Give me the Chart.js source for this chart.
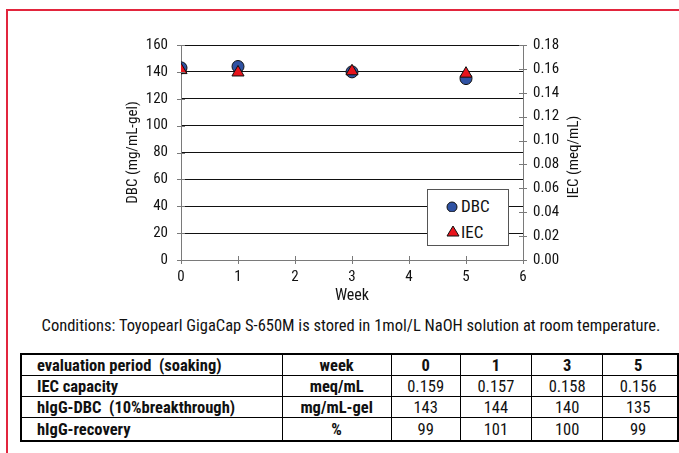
<!DOCTYPE html>
<html>
<head>
<meta charset="utf-8">
<script src="https://cdn.jsdelivr.net/npm/chart.js@4"></script>
<style>
  body { margin: 0; width: 679px; height: 453px; overflow: hidden; background: #fff; position: relative;
         font-family: "Roboto Condensed", "DejaVu Sans Condensed", sans-serif; color: #111; }
  #marco { position: absolute; left: 6px; top: 9px; width: 700px; height: 460px; border: 2px solid #e2253d; }
  #lienzo { position: absolute; left: 0; top: 0; width: 679px; height: 310px; }
  #leyenda { position: absolute; left: 427px; top: 189px; width: 80px; height: 55px; border: 1px solid #555;
             background: #fff; font-size: 17px; }
  #leyenda div { position: absolute; left: 33px; }
  #leyenda span { position: absolute; left: -15px; }
  #condiciones { position: absolute; left: 0; width: 702px; top: 316px; text-align: center; font-size: 16.5px; }
  table { position: absolute; left: 20px; top: 353px; border-collapse: collapse; font-size: 16.5px; table-layout: fixed;
          border: 2px solid #000; }
  td { border: 1px solid #000; height: 20px; padding: 0; text-align: center; line-height: 19px; }
  td.etiqueta { text-align: left; padding-left: 15px; font-weight: bold; }
  td.unidad { font-weight: bold; }
  tr.cabecera td { font-weight: bold; }
  tr.ultima td { height: 22px; }
</style>
</head>
<body>
<div id="marco"></div>
<canvas id="lienzo" width="679" height="310"></canvas>
<div id="leyenda">
  <div style="top:6px"><span><svg width="12" height="14"><circle cx="6" cy="9" r="5" fill="#2f52a3" stroke="#111" stroke-width="1"/></svg></span>DBC</div>
  <div style="top:32px"><span><svg width="14" height="14"><polygon points="7,2 13,12 1,12" fill="#e8141c" stroke="#111" stroke-width="1"/></svg></span>IEC</div>
</div>
<div id="condiciones">Conditions: Toyopearl GigaCap S-650M is stored in 1mol/L NaOH solution at room temperature.</div>
<table>
  <colgroup><col style="width:264px"><col style="width:110px"><col style="width:70px"><col style="width:72px"><col style="width:72px"><col style="width:76px"></colgroup>
  <tr class="cabecera"><td class="etiqueta">evaluation period&nbsp; (soaking)</td><td>week</td><td>0</td><td>1</td><td>3</td><td style="padding-right:4px">5</td></tr>
  <tr><td class="etiqueta">IEC capacity</td><td class="unidad">meq/mL</td><td>0.159</td><td>0.157</td><td>0.158</td><td style="padding-right:4px">0.156</td></tr>
  <tr><td class="etiqueta">hIgG-DBC&nbsp; (10%breakthrough)</td><td class="unidad">mg/mL-gel</td><td>143</td><td>144</td><td>140</td><td style="padding-right:4px">135</td></tr>
  <tr class="ultima"><td class="etiqueta">hIgG-recovery</td><td class="unidad">%</td><td>99</td><td>101</td><td>100</td><td style="padding-right:4px">99</td></tr>
</table>
<script>
(function () {

    const semanas = [0, 1, 3, 5];
    const dbc = [143, 144, 140, 135];      // mg/mL-gel
    const iec = [0.159, 0.157, 0.158, 0.156]; // meq/mL

    const fuente = { family: '"Roboto Condensed", "DejaVu Sans Condensed", sans-serif', size: 15 };
    const gris = '#7a7a7a';

    // marcas cruzadas en los ejes y titulo derecho girado
    const marcas = {
        id: 'marcas',
        afterDraw(chart) {
            const ctx = chart.ctx;
            ctx.save();
            ctx.strokeStyle = gris;
            ctx.lineWidth = 1;
            ['y', 'y1'].forEach(id => {
                const s = chart.scales[id];
                const x = id === 'y' ? chart.chartArea.left : chart.chartArea.right;
                s.ticks.forEach((t, i) => {
                    const py = Math.round(s.getPixelForTick(i)) + 0.5;
                    ctx.beginPath();
                    ctx.moveTo(x - 4, py);
                    ctx.lineTo(x + 4, py);
                    ctx.stroke();
                });
            });
            const sx = chart.scales.x;
            sx.ticks.forEach((t, i) => {
                const px = Math.round(sx.getPixelForTick(i)) + 0.5;
                ctx.beginPath();
                ctx.moveTo(px, chart.chartArea.bottom - 4);
                ctx.lineTo(px, chart.chartArea.bottom + 4);
                ctx.stroke();
            });
            ctx.fillStyle = '#111';
            ctx.font = '15px ' + fuente.family;
            ctx.textAlign = 'center';
            ctx.textBaseline = 'middle';
            ctx.translate(574, 157);
            ctx.rotate(-Math.PI / 2);
            ctx.fillText('IEC (meq/mL)', 0, 0);
            ctx.restore();
        }
    };

    const ctx = document.getElementById('lienzo').getContext('2d');

    new Chart(ctx, {
        type: 'scatter',
        data: {
            datasets: [{
                label: 'IEC',
                data: semanas.map((s, i) => ({ x: s, y: iec[i] })),
                yAxisID: 'y1',
                order: 0,
                pointStyle: 'triangle',
                pointRadius: 7,
                backgroundColor: '#e8141c',
                borderColor: '#111',
                borderWidth: 1
            }, {
                label: 'DBC',
                data: semanas.map((s, i) => ({ x: s, y: dbc[i] })),
                yAxisID: 'y',
                order: 1,
                pointStyle: 'circle',
                pointRadius: 6,
                backgroundColor: '#2f52a3',
                borderColor: '#111',
                borderWidth: 1
            }]
        },
        options: {
            responsive: false,
            animation: false,
            layout: { padding: { left: 120, top: 45, right: 0, bottom: 0 } },
            scales: {
                x: {
                    type: 'linear', min: 0, max: 6,
                    afterFit: s => { s.height = 50; },
                    ticks: { stepSize: 1, padding: 8, color: '#111', font: fuente },
                    grid: { drawOnChartArea: false, drawTicks: false },
                    border: { color: gris },
                    title: { display: true, text: 'Week', color: '#111', font: { family: fuente.family, size: 16 }, padding: 4 }
                },
                y: {
                    position: 'left', min: 0, max: 160,
                    afterFit: s => { s.width = 61; },
                    ticks: { stepSize: 20, padding: 13, color: '#111', font: fuente },
                    grid: { color: '#111', drawTicks: false },
                    border: { color: gris },
                    title: { display: true, text: 'DBC (mg/mL-gel)', color: '#111', font: fuente, padding: 4 }
                },
                y1: {
                    position: 'right', min: 0, max: 0.18,
                    afterFit: s => { s.width = 156; },
                    ticks: { stepSize: 0.02, padding: 10, color: '#111', font: fuente,
                             callback: v => v.toFixed(2) },
                    grid: { drawOnChartArea: false, drawTicks: false },
                    border: { color: gris }
                }
            },
            plugins: {
                legend: { display: false },
                tooltip: { enabled: false }
            }
        },
        plugins: [marcas]
    });

})();
</script>
</body>
</html>
